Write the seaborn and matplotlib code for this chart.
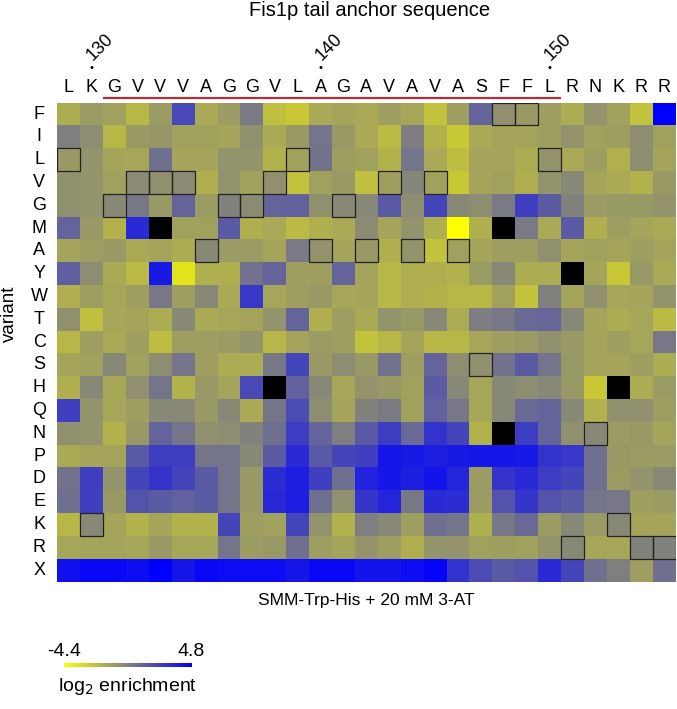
"""Fis1p tail anchor: deep mutational scan heatmap"""
import numpy as np
import pandas as pd
import matplotlib
matplotlib.use("Agg")
import matplotlib.pyplot as plt
from matplotlib.colors import LinearSegmentedColormap
from matplotlib.patches import Rectangle
import seaborn as sns

nan = np.nan

sequence = list("LKGVVVAGGVLAGAVAVASFFLRNKRR")
first_residue = 129
numbered = [130, 140, 150]
tail_start, tail_end = 131, 150  # underlined tail anchor residues
variants = list("FILVGMAYWTCSHQNPDEKRX")

row_F = [-1.4, -0.8, -1.0, -1.8, -0.8, 2.2, -1.3, -0.8, 0.4, -2.1, -2.4, -1.3, -1.1, -1.3, -0.9, -1.2, -2.2, -0.9, 1.2, -0.4, -0.7, -0.9, -1.4, -0.5, -1.0, -2.2, 4.8]
row_I = [0.2, -0.3, -1.8, -0.7, -0.6, -1.0, -1.0, -1.1, -0.4, -1.3, -0.7, 0.6, -0.7, -1.3, -1.9, 0.3, -1.6, -2.4, -1.3, -1.1, -1.1, -0.9, -0.5, -1.0, -0.9, -0.3, -1.0]
row_L = [-0.7, -0.5, -1.1, -1.2, 0.8, -1.1, -1.1, -0.5, -0.5, -1.6, -1.0, 0.7, -0.9, -1.0, -1.6, 0.6, -1.3, -2.0, -1.1, -1.1, -1.4, -0.5, -1.3, -0.9, -1.6, -0.3, -1.1]
row_V = [-0.4, -0.5, -1.0, -0.2, -0.4, -0.2, -1.5, -0.5, -1.0, -0.4, -2.2, -1.0, -0.7, -2.1, -0.9, 0.0, -1.0, -2.4, -1.1, -1.0, -1.5, -0.5, -0.1, -1.1, -1.3, -1.6, -0.7]
row_G = [-0.4, -0.5, -0.1, 0.5, -0.7, 1.2, -0.8, 0.1, -0.2, 1.2, 1.3, -0.4, -0.1, -0.1, 1.6, -0.3, 2.3, -0.1, -0.3, 0.4, 2.5, 1.5, 0.1, -0.8, -0.7, -0.7, -0.5]
row_M = [1.2, -0.7, -1.6, 3.3, nan, -1.0, -1.0, 1.6, -1.5, -1.3, -1.9, -1.5, -1.3, -0.2, -1.1, -0.5, -1.5, -4.4, -1.5, nan, 0.4, -1.3, 1.5, -1.5, -0.9, -1.1, -1.3]
row_A = [-1.1, -0.9, -0.7, -1.3, -1.1, -1.4, -0.1, -0.8, -0.8, -1.1, 0.4, -0.5, -1.1, -0.7, -1.5, -0.5, -2.2, -1.0, -1.1, -0.9, -0.9, -0.4, -1.1, -1.0, -1.1, -0.9, -1.1]
row_Y = [1.4, -0.3, -1.3, -1.9, 3.9, -3.4, -1.5, -1.5, 0.7, 1.2, -0.9, -0.9, 1.2, -1.1, -1.8, -1.5, -1.5, -1.6, -0.8, -0.1, -1.4, -1.4, nan, -1.1, -2.4, -0.7, -1.3]
row_W = [-1.5, -0.9, -1.2, -0.9, 0.5, -0.9, -0.1, -1.3, 2.8, -1.2, -0.9, -0.7, -1.2, -1.1, -1.8, -1.5, -1.6, -1.8, -1.8, -1.0, -2.2, 0.2, -1.1, -0.4, -1.2, -1.1, -0.5]
row_T = [-0.4, -2.1, -1.2, -1.1, -1.4, -0.1, -1.3, -1.2, -1.1, -0.5, 1.2, -1.5, -0.9, -1.3, -0.5, -0.7, -0.1, -1.4, 0.3, 0.5, 1.0, 1.1, -0.1, -1.1, -1.4, -1.2, -1.9]
row_C = [-1.8, -0.9, -1.3, -0.9, -2.0, -0.9, -0.9, -0.8, -0.5, -1.8, -1.1, -0.8, -0.9, -2.2, -1.8, -1.1, -1.8, -1.8, -1.2, -0.9, -0.8, -0.4, -0.7, -1.1, -0.9, -1.2, 0.5]
row_S = [-1.1, -1.0, -0.1, -1.0, -0.3, 0.6, -0.9, -1.4, -1.4, 0.5, 2.3, -0.7, -0.3, -0.7, 0.7, -0.9, 1.2, -0.3, -0.4, 0.7, 1.5, 0.6, -0.7, -1.1, -1.1, -0.9, -1.4]
row_H = [-1.5, -0.1, -1.2, -0.4, 0.6, -1.6, -0.7, -1.1, 2.2, nan, 1.3, -0.1, -1.2, -0.5, -0.7, -1.0, 1.5, -0.1, -1.2, -0.1, -0.3, -0.1, -0.7, -2.4, nan, -1.4, -0.8]
row_Q = [2.5, -0.5, -1.2, -0.9, -0.1, -0.1, -0.7, -0.1, -1.3, 0.6, 2.1, -0.3, -1.1, 0.1, 0.4, -1.0, 1.3, 0.5, -1.2, -0.1, 1.0, 1.2, -0.1, -1.6, -0.4, -0.4, -0.9]
row_N = [-0.4, -0.5, -1.6, -0.7, 1.2, 0.6, -0.4, -0.3, 0.1, 0.8, 2.6, 1.2, 0.2, 1.6, 2.6, 1.0, 3.0, 2.3, -1.6, nan, 2.6, 1.2, -0.4, -0.1, -0.8, -0.7, -1.1]
row_P = [-1.3, -1.1, -1.1, 1.6, 2.6, 2.6, 0.6, 0.6, -0.1, 1.5, 3.3, 1.6, 2.3, 2.5, 4.0, 3.9, 3.7, 3.9, 4.0, 4.0, 3.9, 3.0, 2.8, 0.8, -0.7, -0.8, -0.8]
row_D = [0.7, 2.5, -0.5, 2.3, 2.9, 2.3, 1.5, 0.6, -0.7, 3.2, 3.7, 2.5, 0.8, 3.6, 4.0, 3.7, 4.1, 3.5, -0.8, 2.9, 3.3, 2.6, 2.3, 0.8, -0.8, -0.5, -0.1]
row_E = [0.8, 2.5, -0.7, 1.8, 1.5, 1.3, 1.5, 0.6, -0.7, 3.3, 3.7, 0.8, -0.4, 2.9, 3.5, 0.5, 3.3, 3.2, -0.8, 1.8, 2.9, 1.8, 1.5, 0.6, 0.5, -0.9, -0.8]
row_K = [-1.8, -0.1, -1.1, -1.6, -1.1, -1.6, -1.6, 2.3, -0.9, -1.0, 2.3, -0.5, -1.6, 0.2, -0.1, -0.9, 0.8, 0.6, -1.5, 0.5, 1.0, -0.8, -0.1, -0.8, -0.1, -1.1, -1.1]
row_R = [-1.2, -1.1, -1.1, -1.2, -0.7, -1.2, -1.2, 0.6, -0.8, -0.7, 0.8, -0.9, -1.1, -0.5, -0.9, -1.5, -0.5, -0.5, -1.0, -0.9, -1.0, -0.5, -0.1, -1.2, -1.2, 0.1, 0.1]
row_X = [4.2, 4.5, 4.5, 4.3, 4.8, 4.0, 4.5, 4.4, 4.4, 4.4, 4.0, 4.5, 4.5, 4.1, 4.1, 4.3, 4.6, 3.0, 2.1, 1.6, 1.8, 3.3, 2.3, 0.8, 0.2, -0.9, 0.8]

rows = [row_F, row_I, row_L, row_V, row_G, row_M, row_A, row_Y, row_W, row_T, row_C,
        row_S, row_H, row_Q, row_N, row_P, row_D, row_E, row_K, row_R, row_X]
vmin, vmax = -4.4, 4.8

df = pd.DataFrame(rows, index=variants, columns=range(len(sequence)))

plt.rcParams["font.family"] = ["Liberation Sans", "DejaVu Sans"]
fig = plt.figure(figsize=(6.77, 7.09), dpi=100)
W, H = 677, 709

ax = fig.add_axes([57.3 / W, 1 - 581.5 / H, 618.2 / W, 478.8 / H])
cax = fig.add_axes([64 / W, 1 - 667.3 / H, 127.5 / W, 4.6 / H])

cmap = LinearSegmentedColormap.from_list("ygb", ["#ffff00", "#808080", "#0000ff"])
ax.set_facecolor("black")
sns.heatmap(df, cmap=cmap, vmin=vmin, vmax=vmax, ax=ax, cbar_ax=cax,
            cbar_kws={"orientation": "horizontal"}, linewidths=0)

# wild-type boxes
for j, aa in enumerate(sequence):
    if aa in variants:
        i = variants.index(aa)
        ax.add_patch(Rectangle((j, i), 1, 1, fill=False, edgecolor="#222222", lw=0.9))

ax.xaxis.tick_top()
ax.set_xticks(np.arange(len(sequence)) + 0.5)
ax.set_xticklabels(sequence, fontsize=13, rotation=0)
ax.set_yticks(np.arange(len(variants)) + 0.5)
ax.set_yticklabels(variants, fontsize=13, rotation=0, ha="center")
ax.tick_params(axis="x", length=0, pad=5)
ax.tick_params(axis="y", length=0, pad=13)
ax.set_xlabel("")
ax.set_ylabel("")

# tail anchor underline
ax.plot([tail_start - first_residue, tail_end - first_residue + 1], [-0.22, -0.22],
        color="#b0303c", lw=1.6, clip_on=False, solid_capstyle="butt")

# residue numbers
for n in numbered:
    x = n - first_residue + 0.5
    ax.text(x, -1.5, "•", ha="center", va="center", fontsize=8, clip_on=False)
    ax.text(x - 0.1, -1.95, str(n), rotation=45, rotation_mode="anchor",
            ha="left", va="center", fontsize=13, clip_on=False)

fig.text(370 / W, 1 - 11 / H, "Fis1p tail anchor sequence", ha="center", va="center", fontsize=14.5)
fig.text(366 / W, 1 - 601 / H, "SMM-Trp-His + 20 mM 3-AT", ha="center", va="center", fontsize=12.5)
fig.text(9 / W, 1 - 314 / H, "variant", rotation=90, ha="center", va="center", fontsize=13.5)

cax.xaxis.tick_top()
cax.set_xticks([vmin, vmax])
cax.set_xticklabels(["-4.4", "4.8"], fontsize=14)
cax.tick_params(length=0, pad=2)
cax.xaxis.set_label_position("bottom")
cax.set_xlabel(r"log$_2$ enrichment", fontsize=14, labelpad=6)
for s in cax.spines.values():
    s.set_visible(False)

fig.savefig("out.png", dpi=100)
